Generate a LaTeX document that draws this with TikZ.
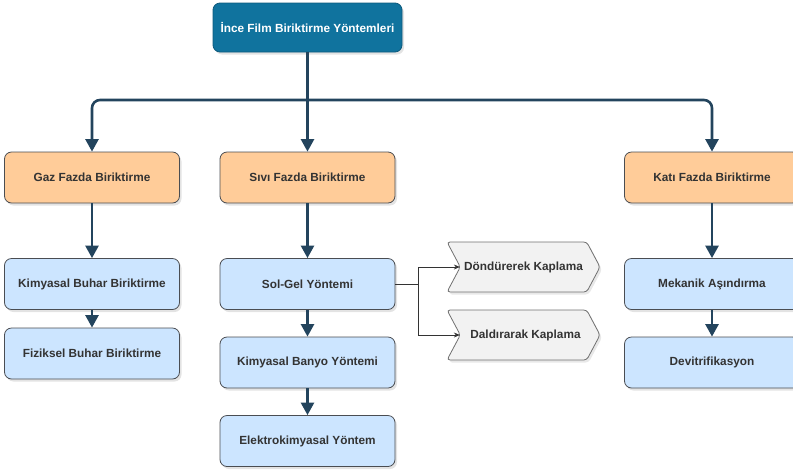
\documentclass[tikz,border=0pt]{standalone}
\usepackage{fontspec}
\setmainfont{Liberation Sans}
\usetikzlibrary{arrows.meta,shadows,shapes.symbols}

\definecolor{titlefill}{HTML}{10739E}
\definecolor{titledraw}{HTML}{0E5A7C}
\definecolor{phasefill}{HTML}{FFCC99}
\definecolor{methodfill}{HTML}{CCE5FF}
\definecolor{boxdraw}{HTML}{4A4D52}
\definecolor{stepfill}{HTML}{F2F2F2}
\definecolor{stepdraw}{HTML}{707070}
\definecolor{linkblue}{HTML}{23445D}
\definecolor{textgray}{HTML}{333333}

\tikzset{
  boxbase/.style={rectangle, rounded corners=7pt, draw=boxdraw, line width=0.8pt,
    minimum width=175pt, minimum height=51pt, inner sep=2pt,
    font=\fontsize{11.8}{14}\selectfont\bfseries, text=textgray,
    drop shadow={shadow xshift=2pt, shadow yshift=-2.5pt, opacity=0.22, fill=gray}},
  titlebox/.style={boxbase, fill=titlefill, draw=titledraw, text=white,
    minimum width=189pt, minimum height=49pt},
  phasebox/.style={boxbase, fill=phasefill},
  methodbox/.style={boxbase, fill=methodfill},
  stepbox/.style={signal, signal to=east, signal from=west, signal pointer angle=124,
    rounded corners=3pt,
    draw=stepdraw, fill=stepfill, line width=0.8pt, minimum width=153pt,
    minimum height=50pt, inner sep=2pt, text=textgray,
    font=\fontsize{11.8}{14}\selectfont\bfseries,
    drop shadow={shadow xshift=2pt, shadow yshift=-2.5pt, opacity=0.18, fill=gray}},
  mainlink/.style={draw=linkblue, line width=2.6pt, rounded corners=8pt,
    -{Triangle[length=12.5pt,width=13pt]}},
  mainline/.style={draw=linkblue, line width=2.6pt},
  sublink/.style={draw=textgray, line width=0.9pt, -{Stealth[length=6pt,width=5pt]}},
}

\begin{document}
\begin{tikzpicture}[x=1pt, y=-1pt]
  \useasboundingbox (0,0) rectangle (793,475);

  % root
  \node[titlebox] (title) at (307.5,27.5) {İnce Film Biriktirme Yöntemleri};

  % phases
  \node[phasebox] (gaz)  at (92,177.5)  {Gaz Fazda Biriktirme};
  \node[phasebox] (sivi) at (307.5,177.5) {Sıvı Fazda Biriktirme};
  \node[phasebox] (kati) at (712,177.5) {Katı Fazda Biriktirme};

  % gas phase methods
  \node[methodbox] (kbuhar) at (92,284)    {Kimyasal Buhar Biriktirme};
  \node[methodbox] (fbuhar) at (92,353.5)  {Fiziksel Buhar Biriktirme};

  % liquid phase methods
  \node[methodbox] (solgel)  at (307.5,284)   {Sol-Gel Yöntemi};
  \node[methodbox] (banyo)   at (307.5,362.5) {Kimyasal Banyo Yöntemi};
  \node[methodbox] (elektro) at (307.5,441)   {Elektrokimyasal Yöntem};

  % sol-gel coating steps
  \node[stepbox] (donder) at (523.5,267) {Döndürerek Kaplama};
  \node[stepbox] (daldir) at (523.5,335) {\hspace*{4pt}Daldırarak Kaplama};

  % solid phase methods
  \node[methodbox] (mekanik) at (712,284)   {Mekanik Aşındırma};
  \node[methodbox] (devit)   at (712,362.5) {Devitrifikasyon};

  % tree connectors
  \coordinate (hub) at (307.5,100);
  \draw[mainline] (title.south) -- (hub);
  \draw[mainlink] (hub) -| (gaz.north);
  \draw[mainlink] (hub) -| (kati.north);
  \draw[mainlink] (hub) -- (sivi.north);

  \draw[mainlink] (gaz.south) -- (kbuhar.north);
  \draw[mainlink] (kbuhar.south) -- (fbuhar.north);

  \draw[mainlink] (sivi.south) -- (solgel.north);
  \draw[mainlink] (solgel.south) -- (banyo.north);
  \draw[mainlink] (banyo.south) -- (elektro.north);

  \draw[mainlink] (kati.south) -- (mekanik.north);
  \draw[mainlink] (mekanik.south) -- (devit.north);

  % sol-gel branches
  \coordinate (fork) at (418,284);
  \draw[sublink] (solgel.east) -- (fork) |- (donder.west);
  \draw[sublink] (fork) |- (daldir.west);
\end{tikzpicture}
\end{document}
